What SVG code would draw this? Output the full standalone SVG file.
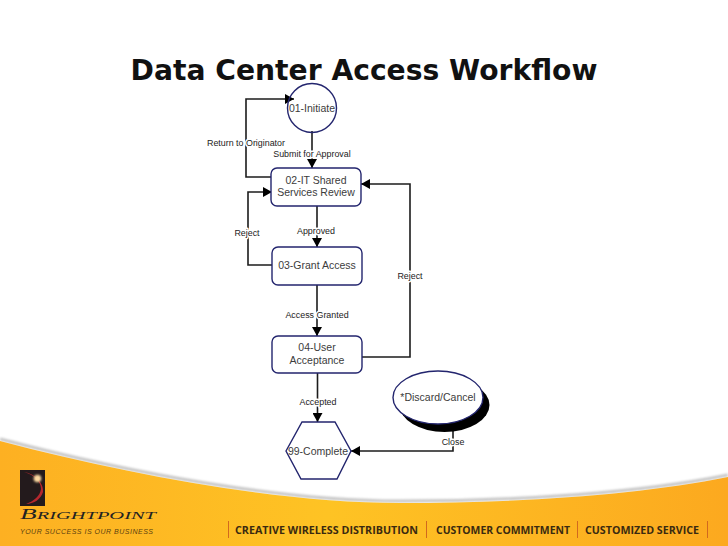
<svg xmlns="http://www.w3.org/2000/svg" width="728" height="546" viewBox="0 0 728 546">
<defs>
<linearGradient id="band" x1="0" y1="0" x2="1" y2="0"><stop offset="0" stop-color="#fdb022"/><stop offset="0.45" stop-color="#fec324"/><stop offset="1" stop-color="#fca91f"/></linearGradient>
<filter id="soft" x="-5%" y="-30%" width="110%" height="160%"><feGaussianBlur stdDeviation="1.2"/></filter>
<filter id="glow" x="-60%" y="-60%" width="220%" height="220%"><feGaussianBlur stdDeviation="0.9"/></filter>
<marker id="arrow" viewBox="0 0 9 10" refX="9" refY="5" markerWidth="9" markerHeight="10" markerUnits="userSpaceOnUse" orient="auto"><path d="M0 0L9 5L0 10Z" fill="#000"/></marker>
</defs>
<style>
.t{font-family:"Liberation Sans",Arial,sans-serif;fill:#3c3c3c;text-anchor:middle}
.n{font-size:10.5px}
.l{font-size:8.9px;fill:#222;stroke:#fff;stroke-width:3px;paint-order:stroke;stroke-linejoin:round}
.box{fill:#fff;stroke:#23256e;stroke-width:1.4}
.c{fill:none;stroke:#1c1c1c;stroke-width:1.6}
.tag{font-family:"Open Sans","Liberation Sans",sans-serif;font-weight:700;font-size:10.3px;fill:#3a2a10}
.sep{stroke:#d2691e;stroke-width:1}
</style>
<rect width="728" height="546" fill="#fff"/>
<path d="M0 439C130 473 280 501 400 501C520 501 640 493 728 475" fill="none" stroke="#8c8c8c" stroke-width="3" opacity=".5" filter="url(#soft)"/>
<path d="M0 441C130 475 280 503 400 503C520 503 640 495 728 477V546H0Z" fill="url(#band)"/>
<text x="364" y="80" font-family="'DejaVu Sans',Verdana,sans-serif" font-weight="700" font-size="28.300" fill="#111" text-anchor="middle" textLength="467" lengthAdjust="spacingAndGlyphs">Data Center Access Workflow</text>
<g id="connectors">
<path class="c" d="M312 131V168" marker-end="url(#arrow)"/>
<path class="c" d="M271 177H246V99H294" marker-end="url(#arrow)"/>
<path class="c" d="M317 206V247" marker-end="url(#arrow)"/>
<path class="c" d="M272 265H248V192H272" marker-end="url(#arrow)"/>
<path class="c" d="M317 285V336" marker-end="url(#arrow)"/>
<path class="c" d="M362 357H410V184H361" marker-end="url(#arrow)"/>
<path class="c" d="M317.500 373V422" marker-end="url(#arrow)"/>
<path class="c" d="M453 430V451H351" marker-end="url(#arrow)"/>
</g>
<g id="labels">
<text class="t l" x="246" y="146">Return to Originator</text>
<text class="t l" x="312" y="157">Submit for Approval</text>
<text class="t l" x="247" y="236">Reject</text>
<text class="t l" x="316" y="234">Approved</text>
<text class="t l" x="410" y="279">Reject</text>
<text class="t l" x="317" y="318">Access Granted</text>
<text class="t l" x="318" y="405">Accepted</text>
<text class="t l" x="453" y="445">Close</text>
</g>
<g id="n01"><circle class="box" cx="312" cy="108" r="24.500" fill-opacity="0"/><text class="t n" x="312" y="112">01-Initiate</text></g>
<g id="n02"><rect class="box" x="271" y="168" width="90" height="38" rx="6"/><text class="t n" x="316" y="184">02-IT Shared</text><text class="t n" x="316" y="196">Services Review</text></g>
<g id="n03"><rect class="box" x="272" y="247" width="90" height="38" rx="6"/><text class="t n" x="317" y="269">03-Grant Access</text></g>
<g id="n04"><rect class="box" x="272" y="336" width="90" height="37" rx="6"/><text class="t n" x="317" y="351">04-User</text><text class="t n" x="317" y="364">Acceptance</text></g>
<g id="n99"><path class="box" d="M286 451L302 422H335L351 451L337 479H301Z"/><text class="t n" x="318" y="455">99-Complete</text></g>
<g id="ncancel"><ellipse cx="444.500" cy="405" rx="45" ry="27" fill="#000"/><ellipse class="box" cx="438" cy="397.500" rx="45" ry="26.500"/><text class="t n" x="438" y="401">*Discard/Cancel</text></g>
<g id="footer">
<rect x="20" y="470" width="25" height="36" fill="#231a1c"/>
<path d="M24 472C36 474 44 484 43 492C41 499 34 504 26 504C34 501 40 496 41 489C41 481 34 475 24 472Z" fill="#b5272e"/>
<circle cx="37.500" cy="478.500" r="3.800" fill="#fbd9a0" filter="url(#glow)"/>
<text x="20" y="519" font-family="'Liberation Serif',serif" font-style="italic" font-size="10.500" fill="#222" textLength="136" lengthAdjust="spacingAndGlyphs"><tspan font-size="14">B</tspan>RIGHTPOINT</text>
<text x="20" y="534" font-family="'Liberation Sans',sans-serif" font-style="italic" font-size="7" fill="#5a4010" textLength="133" lengthAdjust="spacing">YOUR SUCCESS IS OUR BUSINESS</text>
<path class="sep" d="M228.500 521V538M426.500 521V538M577.500 521V538M707.500 521V538"/>
<text class="tag" x="235" y="534" textLength="183" lengthAdjust="spacingAndGlyphs">CREATIVE WIRELESS DISTRIBUTION</text>
<text class="tag" x="436" y="534" textLength="134" lengthAdjust="spacingAndGlyphs">CUSTOMER COMMITMENT</text>
<text class="tag" x="585" y="534" textLength="114" lengthAdjust="spacingAndGlyphs">CUSTOMIZED SERVICE</text>
</g>
</svg>
